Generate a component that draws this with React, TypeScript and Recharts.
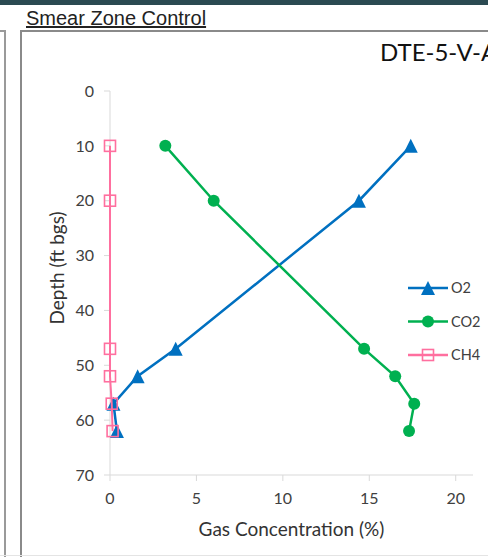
import React from 'react';
import { ScatterChart, Scatter, XAxis, YAxis, Legend, Label } from 'recharts';

// Soil-gas profile: depth below ground surface vs. gas concentration
const depths = [10, 20, 47, 52, 57, 62];
const o2Values = [17.4, 14.4, 3.8, 1.6, 0.2, 0.4];
const co2Values = [3.2, 6.0, 14.7, 16.5, 17.6, 17.3];
const ch4Values = [0, 0, 0, 0, 0.1, 0.15];
const seriesNames = ['O2', 'CO2', 'CH4'];
const xTicks = [0, 5, 10, 15, 20];
const yTicks = [0, 10, 20, 30, 40, 50, 60, 70];
const pageHeading = 'Smear Zone Control';
const chartTitle = 'DTE-5-V-A';
const xTitle = 'Gas Concentration (%)';
const yTitle = 'Depth (ft bgs)';

const BLUE = '#0070C0';
const GREEN = '#00B050';
const PINK = '#FF6F9F';
const AXIS = '#D9D9D9';
const TEXT = '#404040';
const FONT = 'Lato, "Open Sans", sans-serif';

const toRows = (vals: number[]) => depths.map((d, i) => ({ depth: d, value: vals[i] }));
const o2Data = toRows(o2Values);
const co2Data = toRows(co2Values);
const ch4Data = toRows(ch4Values);

const triangle = (cx: number, cy: number, color: string) => (
  <polygon points={`${cx},${cy - 7} ${cx + 7},${cy + 7} ${cx - 7},${cy + 7}`} fill={color} />
);
const circle = (cx: number, cy: number, color: string) => <circle cx={cx} cy={cy} r={6} fill={color} />;
const square = (cx: number, cy: number, color: string) => (
  <rect x={cx - 5.5} y={cy - 5.5} width={11} height={11} fill="none" stroke={color} strokeWidth={1.6} />
);

const TriangleShape = (p: any) => triangle(p.cx, p.cy, BLUE);
const CircleShape = (p: any) => circle(p.cx, p.cy, GREEN);
const SquareShape = (p: any) => square(p.cx, p.cy, PINK);

const legendItems = [
  { name: seriesNames[0], color: BLUE, marker: triangle },
  { name: seriesNames[1], color: GREEN, marker: circle },
  { name: seriesNames[2], color: PINK, marker: square },
];

const LegendBox = () => (
  <svg width={84} height={100} style={{ display: 'block', overflow: 'visible' }}>
    {legendItems.map((it, i) => {
      const y = 18 + i * 33.5;
      return (
        <g key={it.name}>
          <line x1={4} x2={44} y1={y} y2={y} stroke={it.color} strokeWidth={2.5} />
          {it.marker(24, y, it.color)}
          <text x={47} y={y} dy="0.35em" fontSize={14.5} fontFamily={FONT} fill={TEXT}>
            {it.name}
          </text>
        </g>
      );
    })}
  </svg>
);

const YTitle = (props: any) => {
  const vb = props.viewBox;
  const cx = vb.x + 6;
  const cy = vb.y + vb.height / 2 - 15;
  return (
    <text
      x={cx}
      y={cy}
      transform={`rotate(-90 ${cx} ${cy})`}
      textAnchor="middle"
      dominantBaseline="central"
      fontSize={19}
      fontFamily={FONT}
      fill="#333"
    >
      {yTitle}
    </text>
  );
};

const XTitle = (props: any) => {
  const vb = props.viewBox;
  return (
    <text
      x={vb.x + vb.width / 2}
      y={vb.y + 53}
      textAnchor="middle"
      dominantBaseline="central"
      fontSize={19}
      fontFamily={FONT}
      fill="#333"
    >
      {xTitle}
    </text>
  );
};

export default function App() {
  return (
    <div
      style={{
        position: 'fixed',
        left: 0,
        top: 0,
        width: 488,
        height: 557,
        background: '#fff',
        overflow: 'hidden',
      }}
    >
      {/* header band */}
      <div style={{ position: 'absolute', left: 0, top: 0, width: 488, height: 5, background: '#2B4A52' }} />
      <div
        style={{
          position: 'absolute',
          left: 26,
          top: 6,
          fontFamily: '"Liberation Sans", Arial, sans-serif',
          fontSize: 20,
          color: '#222',
          textDecoration: 'underline',
          lineHeight: '24px',
          whiteSpace: 'nowrap',
        }}
      >
        {pageHeading}
      </div>
      {/* neighbouring panel edge */}
      <div style={{ position: 'absolute', left: 0, top: 30, width: 6, height: 2, background: '#9A9A9A' }} />
      <div style={{ position: 'absolute', left: 4, top: 30, width: 2, height: 530, background: '#9A9A9A' }} />
      {/* chart frame */}
      <div style={{ position: 'absolute', left: 20, top: 30, width: 470, height: 2, background: '#8A8A8A' }} />
      <div style={{ position: 'absolute', left: 20, top: 30, width: 2, height: 530, background: '#8A8A8A' }} />
      <div style={{ position: 'absolute', left: 0, top: 555, width: 488, height: 1, background: '#E4E4E4' }} />
      <div
        style={{
          position: 'absolute',
          left: 380,
          top: 38,
          fontFamily: FONT,
          fontSize: 24,
          color: '#111',
          whiteSpace: 'nowrap',
          lineHeight: '28px',
        }}
      >
        {chartTitle}
      </div>

      <div style={{ position: 'absolute', left: 0, top: 0 }}>
        <ScatterChart width={488} height={557} margin={{ top: 91, right: 15, bottom: 32, left: 50 }}>
          <XAxis
            type="number"
            dataKey="value"
            domain={[0, 21]}
            ticks={xTicks}
            height={50}
            stroke={AXIS}
            tickSize={6}
            tickMargin={12}
            tick={{ fill: TEXT, fontSize: 16, fontFamily: FONT }}
          >
            <Label content={<XTitle />} />
          </XAxis>
          <YAxis
            type="number"
            dataKey="depth"
            domain={[0, 70]}
            ticks={yTicks}
            reversed
            width={60}
            stroke={AXIS}
            tickSize={6}
            tickMargin={10}
            tick={{ fill: TEXT, fontSize: 16, fontFamily: FONT }}
          >
            <Label content={<YTitle />} />
          </YAxis>
          <Legend
            layout="vertical"
            align="center"
            verticalAlign="middle"
            wrapperStyle={{ position: 'absolute', left: 404, top: 270, width: 84 }}
            content={() => <LegendBox />}
          />
          <Scatter
            name={seriesNames[0]}
            data={o2Data}
            line={{ stroke: BLUE, strokeWidth: 2.5 }}
            lineType="joint"
            shape={<TriangleShape />}
            isAnimationActive={false}
          />
          <Scatter
            name={seriesNames[1]}
            data={co2Data}
            line={{ stroke: GREEN, strokeWidth: 2.5 }}
            lineType="joint"
            shape={<CircleShape />}
            isAnimationActive={false}
          />
          <Scatter
            name={seriesNames[2]}
            data={ch4Data}
            line={{ stroke: PINK, strokeWidth: 2 }}
            lineType="joint"
            shape={<SquareShape />}
            isAnimationActive={false}
          />
        </ScatterChart>
      </div>
    </div>
  );
}
